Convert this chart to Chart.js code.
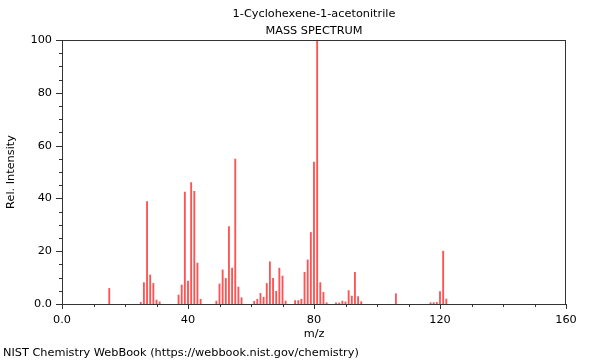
<!DOCTYPE html>
<html>
<head>
<meta charset="utf-8">
<script src="https://cdn.jsdelivr.net/npm/chart.js@4"></script>
<style>
  html, body { margin: 0; padding: 0; background: #fff; }
  #wrap { position: relative; width: 600px; height: 360px; }
</style>
</head>
<body>
<div id="wrap"><canvas id="msChart" width="600" height="360"></canvas></div>
<script>
// m/z values and relative intensities
const masses = [15, 25, 26, 27, 28, 29, 30, 31, 37, 38, 39, 40, 41, 42, 43, 44,
  49, 50, 51, 52, 53, 54, 55, 56, 57, 61, 62, 63, 64, 65, 66, 67, 68, 69, 70, 71,
  74, 75, 76, 77, 78, 79, 80, 81, 82, 83, 84, 87, 88, 89, 90, 91, 92, 93, 94, 95,
  106, 117, 118, 119, 120, 121, 122]
const intensities = [5.9, 0.6, 8.1, 38.8, 11, 7.8, 1.5, 0.8, 3.4, 7.2, 42.4, 8.7, 46, 42.7, 15.5, 1.8,
  1.1, 7.6, 12.9, 9.7, 29.3, 13.6, 54.9, 6.4, 2.4, 1, 1.8, 4, 2.6, 7.8, 16, 9.7, 4.8, 13.6, 10.6, 1.1,
  1.3, 1.3, 1.8, 12, 16.7, 27.1, 53.8, 100, 8.1, 4.4, 0.5, 0.4, 0.4, 1.1, 0.8, 5.1, 3, 12, 2.8, 0.9,
  3.9, 0.5, 0.5, 0.6, 4.7, 20, 1.9]

const xTicks = [0, 40, 80, 120, 160]
const yTicks = [0, 20, 40, 60, 80, 100]

const titleLines = ["1-Cyclohexene-1-acetonitrile", "MASS SPECTRUM"]
const xLabel = "m/z"
const yLabel = "Rel. Intensity"
const footer = "NIST Chemistry WebBook (https://webbook.nist.gov/chemistry)"

const FONT = "DejaVu Sans"
const FSIZE = 11.3
const INK = "#333"

const fmt = (v) => (v === 0 ? "0.0" : String(v))

// frame, minor ticks and the text around the plot
const decorations = {
  id: "decorations",
  afterDraw(chart) {
    const { ctx, chartArea: a, scales } = chart
    ctx.save()
    ctx.strokeStyle = INK
    ctx.lineWidth = 1
    ctx.strokeRect(a.left + 0.5, a.top + 0.5, a.right - a.left - 1, a.bottom - a.top)

    ctx.beginPath()
    for (let v = 0; v <= 160; v += 10) {
      const px = Math.round(scales.x.getPixelForValue(v)) + 0.5
      const len = v % 40 === 0 ? 5 : 3
      ctx.moveTo(px, a.bottom)
      ctx.lineTo(px, a.bottom + len)
    }
    for (let v = 0; v <= 100; v += 5) {
      const py = Math.round(scales.y.getPixelForValue(v)) + 0.5
      const len = v % 20 === 0 ? 6 : 3
      ctx.moveTo(a.left, py)
      ctx.lineTo(a.left - len, py)
    }
    ctx.stroke()

    ctx.fillStyle = "#000"
    ctx.font = FSIZE + "px '" + FONT + "'"
    ctx.textAlign = "center"
    ctx.textBaseline = "middle"
    const cx = (a.left + a.right) / 2
    ctx.fillText(titleLines[0], cx, 14)
    ctx.fillText(titleLines[1], cx, 31)
    ctx.fillText(xLabel, cx, 334)

    ctx.save()
    ctx.translate(11, (a.top + a.bottom) / 2)
    ctx.rotate(-Math.PI / 2)
    ctx.fillText(yLabel, 0, 0)
    ctx.restore()

    ctx.textAlign = "left"
    ctx.fillText(footer, 3, 353)
    ctx.restore()
  },
}

document.addEventListener("DOMContentLoaded", () => {
  const ctx = document.getElementById("msChart")

  new Chart(ctx, {
    type: "bar",
    data: {
      datasets: [
        {
          data: masses.map((m, i) => ({ x: m, y: intensities[i] })),
          backgroundColor: "rgba(255, 40, 40, 0.8)",
          borderWidth: 0,
          barThickness: 1.2,
        },
      ],
    },
    options: {
      responsive: false,
      animation: false,
      layout: { padding: { left: 0, right: 34, top: 40, bottom: 0 } },
      scales: {
        x: {
          type: "linear",
          min: 0,
          max: 160,
          offset: false,
          afterFit: (s) => { s.height = 56 },
          afterBuildTicks: (s) => { s.ticks = xTicks.map((v) => ({ value: v })) },
          grid: { display: false },
          border: { display: false },
          ticks: {
            maxRotation: 0,
            padding: 1,
            color: "#000",
            font: { family: FONT, size: FSIZE },
            callback: fmt,
          },
        },
        y: {
          min: 0,
          max: 100,
          afterFit: (s) => { s.width = 62 },
          afterBuildTicks: (s) => { s.ticks = yTicks.map((v) => ({ value: v })) },
          grid: { display: false },
          border: { display: false },
          ticks: {
            padding: 2,
            color: "#000",
            font: { family: FONT, size: FSIZE },
            callback: fmt,
          },
        },
      },
      plugins: {
        legend: { display: false },
        tooltip: { enabled: false },
      },
    },
    plugins: [decorations],
  })
})
</script>
</body>
</html>
